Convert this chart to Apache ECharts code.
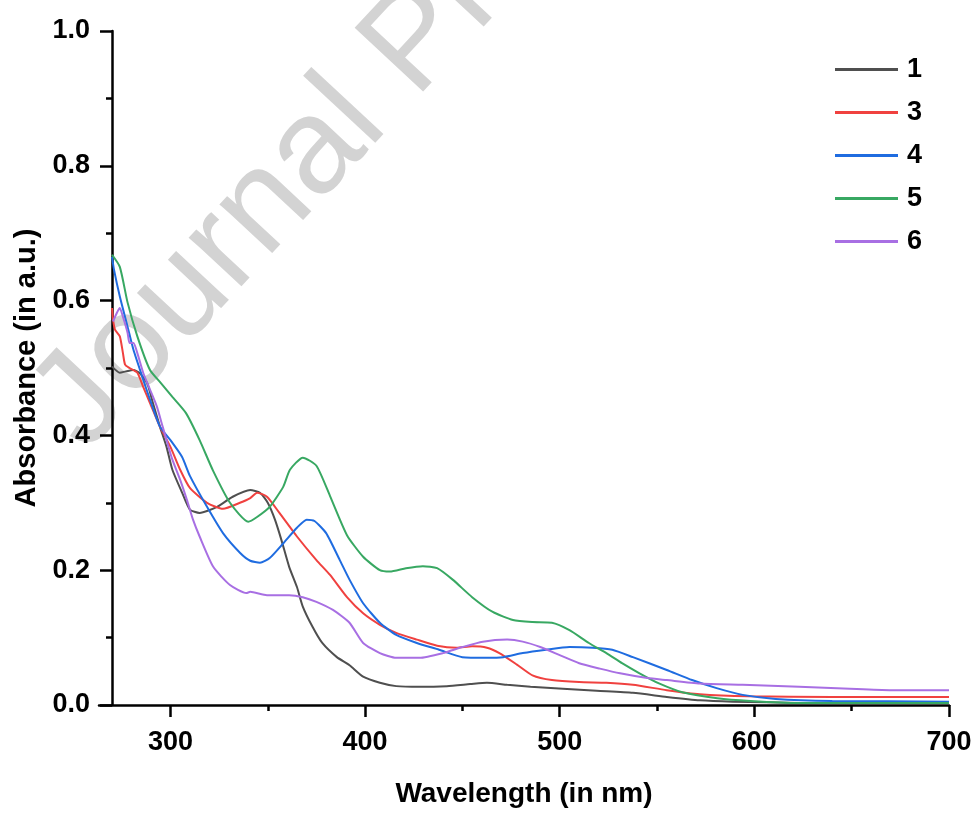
<!DOCTYPE html>
<html>
<head>
<meta charset="utf-8">
<script src="https://cdn.jsdelivr.net/npm/echarts@6/dist/echarts.min.js"></script>
<style>
html,body{margin:0;padding:0;background:#fff;}
#chart{width:977px;height:815px;}
</style>
</head>
<body>
<div id="chart"></div>
<script>
// ---- Data ----
const seriesNames = ['1', '3', '4', '5', '6'];

const wl1 = [270, 274, 277, 281, 284, 288, 291, 294.6, 298, 301, 306, 310, 315, 324, 332, 341, 346, 350, 353.7, 357, 361, 365, 368, 373, 378, 385.5, 392, 399, 407.6, 416, 428, 442, 454, 462.6, 473, 485, 501.6, 519, 537.6, 555, 572, 589, 623, 660, 700];
const abs1 = [0.502, 0.493, 0.495, 0.497, 0.493, 0.478, 0.448, 0.413, 0.383, 0.349, 0.315, 0.290, 0.285, 0.294, 0.309, 0.319, 0.315, 0.300, 0.275, 0.245, 0.205, 0.175, 0.146, 0.116, 0.092, 0.071, 0.059, 0.042, 0.033, 0.028, 0.027, 0.028, 0.031, 0.033, 0.030, 0.027, 0.024, 0.021, 0.018, 0.012, 0.007, 0.005, 0.003, 0.002, 0.002];

const wl3 = [270, 270.5, 271.5, 274, 275.6, 276.7, 279, 283, 286, 289.5, 294.6, 300, 305, 310, 318.8, 327, 335.7, 341, 344.5, 349.6, 356, 365, 375, 382, 390.7, 399, 407.6, 416, 426.6, 437, 447, 455, 462.6, 469, 478, 486, 496, 510, 524, 537.6, 555, 572, 597, 640, 700];
const abs3 = [0.589, 0.572, 0.557, 0.547, 0.522, 0.505, 0.500, 0.493, 0.472, 0.448, 0.413, 0.383, 0.349, 0.322, 0.300, 0.291, 0.300, 0.307, 0.315, 0.309, 0.285, 0.250, 0.215, 0.193, 0.160, 0.136, 0.119, 0.107, 0.097, 0.088, 0.085, 0.087, 0.085, 0.077, 0.060, 0.044, 0.037, 0.034, 0.033, 0.030, 0.022, 0.016, 0.013, 0.012, 0.012];

const wl4 = [270, 271, 274, 278, 281, 286, 289.5, 294.6, 300, 306, 310, 318.8, 327, 335.7, 341, 346, 351, 358, 365, 370, 374, 380, 387, 392, 399, 407.6, 416, 426.6, 438, 450, 462.6, 471, 481, 493, 505, 517, 527, 537.6, 555, 568, 580.6, 594, 611, 640, 700];
const abs4 = [0.665, 0.646, 0.606, 0.561, 0.527, 0.483, 0.453, 0.413, 0.393, 0.368, 0.340, 0.294, 0.255, 0.226, 0.214, 0.211, 0.218, 0.240, 0.263, 0.275, 0.273, 0.255, 0.215, 0.186, 0.151, 0.122, 0.104, 0.092, 0.082, 0.071, 0.070, 0.071, 0.077, 0.082, 0.086, 0.085, 0.082, 0.071, 0.052, 0.037, 0.025, 0.015, 0.009, 0.006, 0.005];

const wl5 = [270, 274, 278, 283, 289.5, 295, 301, 308, 315, 322, 330.6, 340, 344.5, 351, 358, 361.4, 368, 375, 382, 390.7, 399, 407.6, 412.7, 421, 429.7, 437, 445, 455, 465.6, 476, 486, 496, 505, 515, 524, 532, 541, 551, 563, 581, 598, 623, 700];
const abs5 = [0.668, 0.650, 0.597, 0.547, 0.497, 0.478, 0.457, 0.433, 0.393, 0.347, 0.300, 0.272, 0.279, 0.294, 0.324, 0.349, 0.367, 0.355, 0.310, 0.252, 0.220, 0.200, 0.198, 0.203, 0.206, 0.203, 0.186, 0.160, 0.138, 0.126, 0.123, 0.122, 0.111, 0.092, 0.077, 0.062, 0.047, 0.032, 0.019, 0.010, 0.006, 0.003, 0.003];

const wl6 = [270.5, 272.5, 274, 275.6, 278, 279, 281, 283, 286, 289.5, 293, 296, 298, 301, 305, 308.5, 311.6, 315, 322, 330.6, 339, 341, 349.6, 361, 368, 375, 383.5, 392, 399, 407.6, 416, 428, 440, 450, 460.5, 473, 481, 490, 500, 510, 520.6, 531, 545, 555, 572, 594, 623, 649, 669.5, 700];
const abs6 = [0.569, 0.582, 0.589, 0.576, 0.552, 0.537, 0.537, 0.522, 0.493, 0.468, 0.443, 0.413, 0.393, 0.364, 0.334, 0.304, 0.275, 0.250, 0.205, 0.178, 0.166, 0.168, 0.163, 0.163, 0.160, 0.153, 0.141, 0.122, 0.092, 0.077, 0.070, 0.070, 0.077, 0.086, 0.094, 0.097, 0.094, 0.086, 0.074, 0.062, 0.054, 0.047, 0.040, 0.037, 0.032, 0.030, 0.027, 0.024, 0.022, 0.022];

const xMajorTicks = [300, 400, 500, 600, 700];
const xMinorTicks = [350, 450, 550, 650];
const xTitle = 'Wavelength (in nm)';
const yTitle = 'Absorbance (in a.u.)';
const watermark = 'Journal Pre-proof';

// ---- Styles ----
const colors = ['#4f4f4f', '#f0413f', '#1f6ce0', '#38a862', '#a86fe3'];
const FONT = '"Liberation Sans", Arial, sans-serif';
const wls = [wl1, wl3, wl4, wl5, wl6];
const absArr = [abs1, abs3, abs4, abs5, abs6];

const series = seriesNames.map((name, i) => ({
  name: name,
  type: 'line',
  xAxisIndex: 0,
  yAxisIndex: 0,
  data: wls[i].map((w, j) => [w, absArr[i][j]]),
  showSymbol: false,
  symbol: 'none',
  smooth: 0.2,
  lineStyle: { color: colors[i], width: 2 },
  itemStyle: { color: colors[i] },
  z: 3
}));

const chart = echarts.init(document.getElementById('chart'), null, { renderer: 'canvas' });
chart.setOption({
  animation: false,
  backgroundColor: '#ffffff',
  grid: { left: 99, right: 28, top: 31, bottom: 110, containLabel: false, outerBoundsMode: 'none' },
  xAxis: [{
    type: 'value',
    min: 263.3,
    max: 700,
    name: xTitle,
    nameLocation: 'middle',
    nameGap: 75,
    nameTextStyle: { fontFamily: FONT, fontWeight: 'bold', fontSize: 28, color: '#000' },
    axisLine: { show: true, onZero: false, lineStyle: { color: '#000', width: 2.5 } },
    axisTick: { show: true, inside: false, length: 12, customValues: xMajorTicks, lineStyle: { color: '#000', width: 2.5 } },
    axisLabel: { show: true, customValues: xMajorTicks, margin: 24, fontFamily: FONT, fontWeight: 'bold', fontSize: 27, color: '#000' },
    splitLine: { show: false }
  }, {
    type: 'value',
    min: 263.3,
    max: 700,
    position: 'bottom',
    axisLine: { show: false },
    axisTick: { show: true, inside: false, length: 6, customValues: xMinorTicks, lineStyle: { color: '#000', width: 2.5 } },
    axisLabel: { show: false },
    splitLine: { show: false }
  }],
  yAxis: [{
    type: 'value',
    min: 0,
    max: 1,
    interval: 0.2,
    offset: -13,
    name: yTitle,
    nameLocation: 'middle',
    nameGap: 70,
    nameTextStyle: { fontFamily: FONT, fontWeight: 'bold', fontSize: 29, color: '#000' },
    axisLine: { show: true, onZero: false, lineStyle: { color: '#000', width: 2.5 } },
    axisTick: { show: true, inside: false, length: 12, lineStyle: { color: '#000', width: 2.5 } },
    minorTick: { show: true, splitNumber: 2, length: 6, lineStyle: { color: '#000', width: 2.5 } },
    axisLabel: { margin: 22, fontFamily: FONT, fontWeight: 'bold', fontSize: 27, color: '#000', formatter: v => v.toFixed(1) },
    splitLine: { show: false },
    minorSplitLine: { show: false }
  }],
  legend: {
    orient: 'vertical',
    left: 830,
    top: 51,
    icon: 'rect',
    itemWidth: 63,
    itemHeight: 3,
    itemGap: 16,
    data: seriesNames,
    textStyle: { fontFamily: FONT, fontWeight: 'bold', fontSize: 27, color: '#000', lineHeight: 27, padding: [0, 0, 0, 4] }
  },
  graphic: [{
    type: 'text',
    x: 58,
    y: 428,
    rotation: 47 * Math.PI / 180,
    z: -10,
    silent: true,
    style: {
      text: watermark,
      x: 0,
      y: 0,
      fill: '#d3d3d3',
      font: '136px "Liberation Sans", Arial, sans-serif',
      textAlign: 'left',
      textVerticalAlign: 'middle',
      verticalAlign: 'middle'
    }
  }],
  series: series
});
</script>
</body>
</html>
